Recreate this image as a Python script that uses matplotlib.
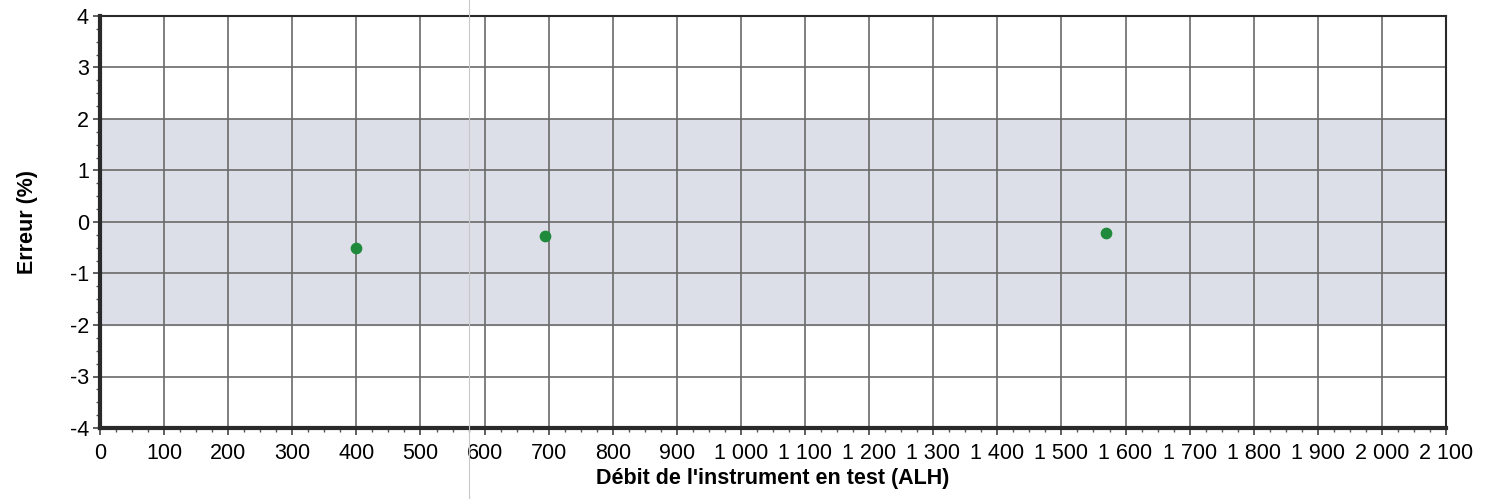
import numpy as np
import matplotlib.pyplot as plt
from matplotlib.ticker import MultipleLocator, FuncFormatter
from matplotlib.lines import Line2D

plt.rcParams['font.family'] = ['Liberation Sans', 'DejaVu Sans']

# measured points: flow (ALH) and error (%)
debit = [400, 695, 1570]
erreur = [-0.5, -0.27, -0.22]

tolerance = 2.0
x_max = 2100
y_lim = (-4, 4)

fig = plt.figure(figsize=(14.91, 4.99), dpi=100)
ax = fig.add_axes([100 / 1491, 1 - 428 / 499, 1346 / 1491, 412 / 499])

ax.axhspan(-tolerance, tolerance, color='#dcdfe7', zorder=0)
ax.scatter(debit, erreur, s=55, color='#1f8a3c', zorder=3)

ax.set_xlim(0, x_max)
ax.set_ylim(*y_lim)
ax.xaxis.set_major_locator(MultipleLocator(100))
ax.xaxis.set_minor_locator(MultipleLocator(25))
ax.yaxis.set_major_locator(MultipleLocator(1))
ax.yaxis.set_minor_locator(MultipleLocator(0.25))
ax.xaxis.set_major_formatter(FuncFormatter(lambda v, p: f"{int(v):,}".replace(",", " ")))
ax.yaxis.set_major_formatter(FuncFormatter(lambda v, p: f"{int(v)}"))

ax.grid(True, which='major', color='#6a6a6a', linewidth=1.2, zorder=1)
ax.set_axisbelow(True)
ax.tick_params(axis='x', which='major', labelsize=15.5, length=5, width=1.2, color='#444444', pad=6)
ax.tick_params(axis='y', which='major', labelsize=15.5, length=5, width=1.2, color='#444444', pad=3)
ax.tick_params(axis='both', which='minor', length=3, width=1, color='#555555')

for side in ['left', 'bottom']:
    ax.spines[side].set_linewidth(3)
    ax.spines[side].set_color('#2a2a2a')
for side in ['top', 'right']:
    ax.spines[side].set_linewidth(1.5)
    ax.spines[side].set_color('#2a2a2a')

ax.set_xlabel("Débit de l'instrument en test (ALH)", fontsize=15.5, fontweight='bold', labelpad=3)
ax.set_ylabel("Erreur (%)", fontsize=15.5, fontweight='bold', labelpad=23)

# faint vertical streak across the page
fig.add_artist(Line2D([469 / 1491, 469 / 1491], [0, 1], color='#c8c8c8', linewidth=0.8))

fig.savefig('out.png', dpi=100, facecolor='white')
